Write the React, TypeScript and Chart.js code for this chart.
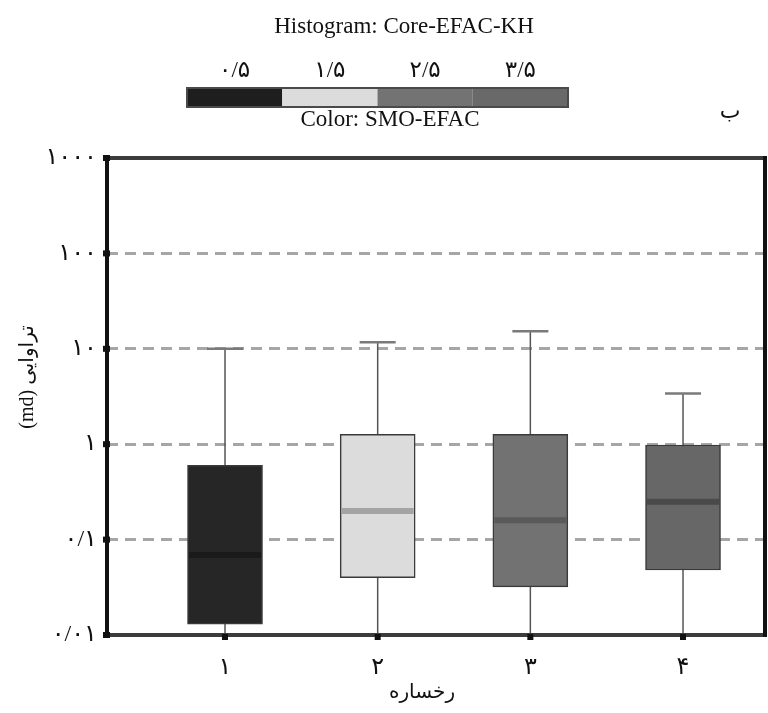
import React, { useEffect, useRef } from "react";
import { Chart, registerables } from "chart.js";
Chart.register(...registerables);

const categories = [1, 2, 3, 4];
const xTickLabels = ["۱", "۲", "۳", "۴"];
const whiskerLow = [0.01, 0.01, 0.01, 0.01];
const q1 = [0.013, 0.04, 0.032, 0.048];
const median = [0.069, 0.2, 0.16, 0.25];
const q3 = [0.6, 1.27, 1.27, 0.98];
const whiskerHigh = [10, 11.7, 15.3, 3.4];
const boxColors = ["#262626", "#dcdcdc", "#727272", "#676767"];
const medianColors = ["#1a1a1a", "#a4a4a4", "#5a5a5a", "#4a4a4a"];
const yTickValues = [0.01, 0.1, 1, 10, 100, 1000];
const yTickLabels = ["۰/۰۱", "۰/۱", "۱", "۱۰", "۱۰۰", "۱۰۰۰"];
const legendLabels = ["۰/۵", "۱/۵", "۲/۵", "۳/۵"];
const legendColors = ["#1e1e1e", "#dcdcdc", "#737373", "#696969"];
const headerTitle = "Histogram: Core-EFAC-KH";
const legendTitle = "Color: SMO-EFAC";
const panelLetter = "ب";
const yTitle = "(md) تراوایی";
const xTitle = "رخساره";

const SERIF = "'Liberation Serif', 'Times New Roman', 'DejaVu Sans', serif";

const extrasPlugin = {
  id: "boxExtras",
  beforeDatasetsDraw(chart: any) {
    const { ctx, chartArea } = chart;
    const x = chart.scales.x;
    const y = chart.scales.y;
    ctx.save();
    ctx.beginPath();
    ctx.rect(chartArea.left, chartArea.top, chartArea.width, chartArea.height);
    ctx.clip();
    categories.forEach((c, i) => {
      const px = x.getPixelForValue(c);
      ctx.strokeStyle = "#555555";
      ctx.lineWidth = 1.5;
      ctx.beginPath();
      ctx.moveTo(px, y.getPixelForValue(whiskerLow[i]));
      ctx.lineTo(px, y.getPixelForValue(whiskerHigh[i]));
      ctx.stroke();
      ctx.strokeStyle = "#7a7a7a";
      ctx.lineWidth = 2.5;
      const cy = y.getPixelForValue(whiskerHigh[i]);
      ctx.beginPath();
      ctx.moveTo(px - 18, cy);
      ctx.lineTo(px + 18, cy);
      ctx.stroke();
    });
    ctx.restore();
  },
  afterDatasetsDraw(chart: any) {
    const { ctx } = chart;
    const x = chart.scales.x;
    const y = chart.scales.y;
    ctx.save();
    categories.forEach((c, i) => {
      const px = x.getPixelForValue(c);
      const my = y.getPixelForValue(median[i]);
      ctx.strokeStyle = medianColors[i];
      ctx.lineWidth = 6;
      ctx.beginPath();
      ctx.moveTo(px - 36, my);
      ctx.lineTo(px + 36, my);
      ctx.stroke();
    });
    ctx.restore();
  },
  afterDraw(chart: any) {
    const { ctx, chartArea } = chart;
    const x = chart.scales.x;
    const y = chart.scales.y;
    const { left, right, top, bottom } = chartArea;
    ctx.save();
    ctx.lineCap = "square";
    ctx.lineWidth = 4;
    ctx.strokeStyle = "#3c3c3c";
    ctx.beginPath();
    ctx.moveTo(left, top);
    ctx.lineTo(right, top);
    ctx.moveTo(left, bottom);
    ctx.lineTo(right, bottom);
    ctx.stroke();
    ctx.strokeStyle = "#111111";
    ctx.beginPath();
    ctx.moveTo(left, top);
    ctx.lineTo(left, bottom);
    ctx.moveTo(right, top);
    ctx.lineTo(right, bottom);
    ctx.stroke();
    ctx.fillStyle = "#111111";
    yTickValues.forEach((v) => {
      const py = y.getPixelForValue(v);
      ctx.fillRect(left - 4, py - 3, 7, 6);
    });
    categories.forEach((c) => {
      const px = x.getPixelForValue(c);
      ctx.fillRect(px - 3, bottom - 1, 6, 6);
    });
    ctx.fillStyle = "#111111";
    ctx.textAlign = "center";
    ctx.textBaseline = "middle";
    ctx.font = `23px ${SERIF}`;
    ctx.fillText(headerTitle, 404, 27);
    ctx.fillText(legendTitle, 390, 120);
    const barL = 187, barR = 568, barT = 88, barB = 107;
    const segW = (barR - barL) / legendColors.length;
    legendColors.forEach((col, i) => {
      ctx.fillStyle = col;
      ctx.fillRect(barL + i * segW, barT, segW, barB - barT);
    });
    ctx.strokeStyle = "#4a4a4a";
    ctx.lineWidth = 2;
    ctx.strokeRect(barL, barT, barR - barL, barB - barT);
    ctx.fillStyle = "#111111";
    ctx.font = `23px ${SERIF}`;
    legendLabels.forEach((l, i) => {
      ctx.fillText(l, barL + (i + 0.5) * segW, 71);
    });
    ctx.font = `22px ${SERIF}`;
    ctx.fillText(panelLetter, 730, 112);
    ctx.font = `20px ${SERIF}`;
    ctx.fillText(xTitle, 422, 693);
    ctx.translate(28, 377);
    ctx.rotate(-Math.PI / 2);
    ctx.fillText(yTitle, 0, 0);
    ctx.restore();
  },
};

export default function App() {
  const ref = useRef<HTMLCanvasElement | null>(null);
  useEffect(() => {
    if (!ref.current) return;
    const chart = new Chart(ref.current, {
      type: "bar",
      data: {
        datasets: [
          {
            data: categories.map((c, i) => ({ x: c, y: [q1[i], q3[i]] })) as any,
            backgroundColor: boxColors,
            borderColor: "#3a3a3a",
            borderWidth: 1.5,
            borderSkipped: false,
            barThickness: 75,
          },
        ],
      },
      options: {
        animation: false,
        responsive: false,
        layout: { padding: { left: 0, top: 158, right: 3, bottom: 0 } },
        plugins: { legend: { display: false }, tooltip: { enabled: false } },
        scales: {
          x: {
            type: "linear",
            offset: false,
            min: 0.227,
            max: 4.537,
            afterBuildTicks: (s: any) => {
              s.ticks = categories.map((v) => ({ value: v }));
            },
            afterFit: (s: any) => {
              s.height = 78;
            },
            ticks: {
              callback: (v: any) => xTickLabels[categories.indexOf(Number(v))] ?? "",
              font: { family: SERIF, size: 24 },
              color: "#111111",
              padding: 18,
              maxRotation: 0,
            },
            grid: { display: false, drawTicks: false, offset: false },
            border: { display: false },
          },
          y: {
            type: "logarithmic",
            min: 0.01,
            max: 1000,
            afterBuildTicks: (s: any) => {
              s.ticks = yTickValues.map((v) => ({ value: v }));
            },
            afterFit: (s: any) => {
              s.width = 107;
            },
            ticks: {
              callback: (v: any) => {
                const idx = yTickValues.findIndex((t) => Math.abs(t - Number(v)) / t < 1e-6);
                return idx >= 0 ? yTickLabels[idx] : "";
              },
              font: { family: SERIF, size: 24 },
              color: "#111111",
              padding: 10,
              autoSkip: false,
            },
            grid: { color: "#a6a6a6", lineWidth: 3, drawTicks: false },
            border: { display: false, dash: [11, 7] },
          },
        },
      } as any,
      plugins: [extrasPlugin],
    });
    return () => chart.destroy();
  }, []);
  return (
    <div style={{ position: "absolute", left: 0, top: 0, width: 768, height: 713, background: "#fff" }}>
      <canvas ref={ref} width={768} height={713} style={{ width: 768, height: 713 }} />
    </div>
  );
}
